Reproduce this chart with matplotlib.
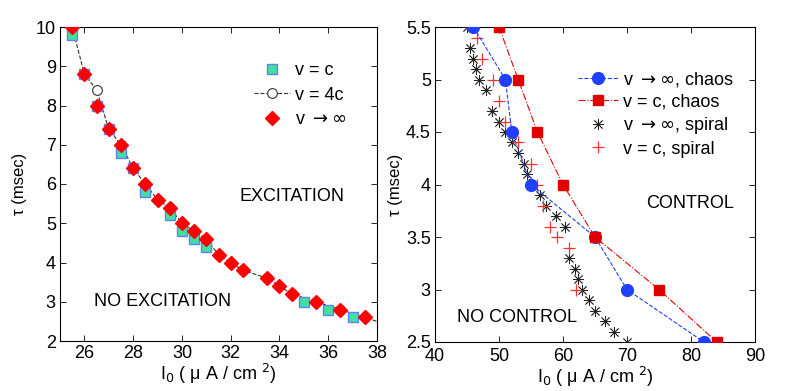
import matplotlib
matplotlib.use("Agg")
import matplotlib.pyplot as plt

plt.rcParams['font.family'] = ['Liberation Sans', 'DejaVu Sans']
plt.rcParams['mathtext.fontset'] = 'dejavusans'

# left panel data
inf_x = [25.5, 26, 26.5, 27, 27.5, 28, 28.5, 29, 29.5, 30, 30.5, 31, 31.5, 32, 32.5, 33.5, 34, 34.5, 35.5, 36.5, 37.5]
inf_y = [10, 8.8, 8.0, 7.4, 7.0, 6.4, 6.0, 5.6, 5.4, 5.0, 4.8, 4.6, 4.2, 4.0, 3.8, 3.6, 3.4, 3.2, 3.0, 2.8, 2.6]
c_x = [25.5, 26, 26.5, 27, 27.5, 28, 28.5, 29.5, 30, 30.5, 31, 35, 36, 37]
c_y = [9.8, 8.8, 8.0, 7.4, 6.8, 6.4, 5.8, 5.2, 4.8, 4.6, 4.4, 3.0, 2.8, 2.6]
c4_x = [25.5, 26, 26.5, 27, 27.5, 28, 28.5, 29, 29.5, 30, 30.5, 31, 31.5, 32, 32.5, 33.5, 34, 34.5, 35.5, 36.5, 37.5, 38]
c4_y = [10, 8.8, 8.4, 7.4, 7.0, 6.4, 6.0, 5.6, 5.4, 5.0, 4.8, 4.6, 4.2, 4.0, 3.8, 3.6, 3.4, 3.2, 3.0, 2.8, 2.6, 2.5]

# right panel data
chaos_inf_x = [46, 51, 52, 55, 65, 70, 82]
chaos_inf_y = [5.5, 5.0, 4.5, 4.0, 3.5, 3.0, 2.5]
chaos_c_x = [50, 53, 56, 60, 65, 75, 84]
chaos_c_y = [5.5, 5.0, 4.5, 4.0, 3.5, 3.0, 2.5]
spiral_inf_x = [45, 45.5, 46, 46.4, 46.9, 48, 48.9, 50, 50.9, 52, 52.9, 53.9, 54.4, 55, 56.4, 57.4, 58.9, 60.3, 61, 61.9, 62.4, 62.9, 64, 65, 66.5, 68, 70]
spiral_inf_y = [5.5, 5.3, 5.2, 5.1, 5.0, 4.9, 4.7, 4.6, 4.5, 4.4, 4.3, 4.2, 4.1, 4.0, 3.9, 3.8, 3.7, 3.6, 3.3, 3.2, 3.1, 3.0, 2.9, 2.8, 2.7, 2.6, 2.5]
spiral_c_x = [46, 46.5, 47.4, 49, 50, 51, 52, 53, 55, 56, 56.9, 58, 59, 61, 62]
spiral_c_y = [5.5, 5.4, 5.2, 5.0, 4.8, 4.6, 4.5, 4.4, 4.2, 4.0, 3.8, 3.6, 3.5, 3.4, 3.0]

fs = 13
xlab = 'I$_0$ ( μ A / cm $^2$)'
ylab = 'τ (msec)'

fig = plt.figure(figsize=(7.89, 3.91), dpi=100)
ax1 = fig.add_axes([60/789, 50/391, 317/789, 314/391])
ax2 = fig.add_axes([435/789, 49/391, 320/789, 315/391])

ax1.plot(c4_x, c4_y, '--', color='#333333', lw=0.8, marker='o', mfc='white', mec='#333333',
         ms=7, mew=0.8, markevery=list(range(len(c4_x) - 1)), label='v = 4c', zorder=2)
ax1.plot(c_x, c_y, 's', mfc='#40e0a0', mec='#6080ff', ms=6.5, mew=1, label='v = c', zorder=3)
ax1.plot(inf_x, inf_y, 'D', color='#ff0000', mec='#ff0000', ms=7.5, label=r'v $\rightarrow \infty$', zorder=4)
h, l = ax1.get_legend_handles_labels()
ax1.legend([h[1], h[0], h[2]], [l[1], l[0], l[2]], loc='upper right', bbox_to_anchor=(0.955, 0.94),
           frameon=False, fontsize=fs, handlelength=2.0, handletextpad=0.3, labelspacing=0.42)
ax1.set_xlim(25, 38)
ax1.set_ylim(2, 10)
ax1.set_xticks(range(26, 39, 2))
ax1.set_yticks(range(2, 11))
ax1.text(34.5, 5.67, 'EXCITATION', fontsize=fs, ha='center', va='center')
ax1.text(29.2, 3.0, 'NO EXCITATION', fontsize=fs, ha='center', va='center')
ax1.set_ylabel(ylab, fontsize=fs - 1, labelpad=6)
ax1.set_xlabel(xlab, fontsize=fs, labelpad=0)

ax2.plot(chaos_inf_x, chaos_inf_y, '--', color='#2040ff', lw=0.8, marker='o', ms=8.5,
         label=r'v $\rightarrow \infty$, chaos', zorder=4)
ax2.plot(chaos_c_x, chaos_c_y, '-.', color='#e00000', lw=0.8, marker='s', ms=7,
         label='v = c, chaos', zorder=4)
ax2.plot(spiral_inf_x, spiral_inf_y, color='#222222', ls='none', marker=(8, 2, 0), ms=8, mew=0.6,
         label=r'v $\rightarrow \infty$, spiral', zorder=3)
ax2.plot(spiral_c_x, spiral_c_y, '+', color='#ff3030', ls='none', ms=9, mew=0.9,
         label='v = c, spiral', zorder=3)
ax2.legend(loc='upper right', bbox_to_anchor=(0.985, 0.915), frameon=False, fontsize=fs,
           handlelength=2.2, handletextpad=0.3, labelspacing=0.25)
ax2.set_xlim(40, 90)
ax2.set_ylim(2.5, 5.5)
ax2.set_xticks(range(40, 91, 10))
ax2.set_yticks([2.5, 3, 3.5, 4, 4.5, 5, 5.5])
ax2.set_yticklabels(['2.5', '3', '3.5', '4', '4.5', '5', '5.5'])
ax2.text(79.8, 3.82, 'CONTROL', fontsize=fs, ha='center', va='center')
ax2.text(52.8, 2.73, 'NO CONTROL', fontsize=fs, ha='center', va='center')
ax2.set_ylabel(ylab, fontsize=fs - 1, labelpad=2)
ax2.set_xlabel(xlab, fontsize=fs, labelpad=0)

for ax in (ax1, ax2):
    ax.tick_params(direction='in', top=True, right=True, labelsize=fs, length=4, width=0.6, pad=3)
    for s in ax.spines.values():
        s.set_linewidth(0.8)
ax2.tick_params(axis='x', pad=4.5)

fig.savefig('out.png', dpi=100)
